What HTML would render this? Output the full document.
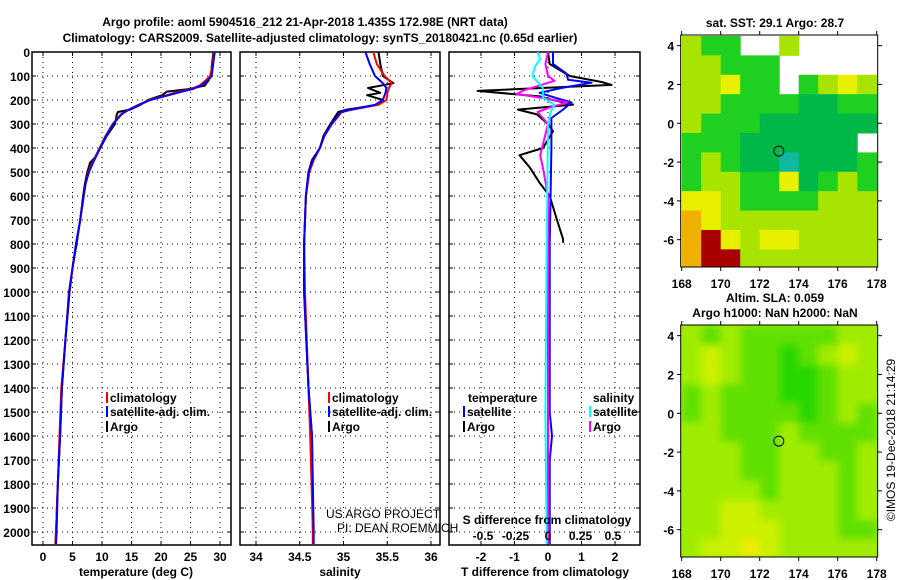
<!DOCTYPE html>
<html><head><meta charset="utf-8"><style>
html,body{margin:0;padding:0;background:#fff;}
svg{display:block;font-family:"Liberation Sans",sans-serif;}
.b{font-weight:bold;font-size:12px;}
.n{font-weight:normal;font-size:12px;}
</style></head><body>
<svg id="s" width="900" height="580" viewBox="0 0 900 580">
<text class="b" x="305" y="26" text-anchor="middle" font-size="13">Argo profile: aoml 5904516_212 21-Apr-2018 1.435S 172.98E (NRT data)</text>
<text class="b" x="320" y="42" text-anchor="middle" font-size="13">Climatology: CARS2009. Satellite-adjusted climatology: synTS_20180421.nc (0.65d earlier)</text>
<g id="g"></g>
</svg>
<script>
// ---- profile data (depth in m) ----
const tDepth=[0,20,60,100,120,140,155,165,180,200,220,240,250,260,300,350,400,440,460,500,550,600,700,800,900,1000,1200,1400,1600,1800,2000,2050];
const tArgo=[28.9,28.8,28.6,28.5,28.0,27.4,24.5,21.0,20.2,17.8,16.5,14.8,12.7,12.5,12.2,10.8,9.7,8.8,8.0,7.5,7.1,6.8,6.3,5.7,5.0,4.4,3.8,3.2,2.9,2.5,2.2,2.1];
const tClim=[29.0,28.9,28.7,28.3,27.5,26.5,25.0,23.0,21.0,18.0,16.2,14.5,13.8,13.2,11.8,10.6,9.6,8.8,8.4,7.7,7.2,6.9,6.3,5.6,5.0,4.5,3.8,3.1,2.8,2.5,2.2,2.1];
const tSat=[29.1,29.0,28.8,28.6,27.8,26.8,25.3,23.5,21.3,18.2,16.3,14.6,13.9,13.3,11.9,10.7,9.7,8.9,8.5,7.8,7.2,6.9,6.3,5.6,5.0,4.5,3.8,3.2,2.9,2.5,2.3,2.2];
const sDepth=[0,50,100,130,150,170,180,200,220,240,250,300,350,400,450,500,600,800,1000,1400,1600,2000,2050];
const sArgo=[35.40,35.42,35.45,35.57,35.28,35.42,35.27,35.45,35.38,35.04,34.94,34.85,34.77,34.73,34.64,34.60,34.57,34.55,34.55,34.60,34.64,34.65,34.65];
const sClim=[35.34,35.38,35.47,35.55,35.52,35.50,35.50,35.49,35.40,35.10,34.98,34.87,34.78,34.73,34.66,34.61,34.57,34.55,34.56,34.60,34.62,34.65,34.65];
const sSat=[35.25,35.30,35.36,35.45,35.49,35.48,35.47,35.45,35.36,35.08,34.97,34.86,34.78,34.73,34.65,34.60,34.57,34.55,34.55,34.60,34.64,34.66,34.66];
const dtDepth=[0,50,100,125,137,162,185,200,219,240,260,300,330,400,430,480,545,600,700,780,795];
const dtArgo=[0,0.05,0.65,1.6,1.9,-2.1,-0.25,0.15,0.75,-0.9,-0.33,0,0.15,-0.15,-0.85,-0.55,-0.25,0.05,0.27,0.45,0.45];
const dtSatDepth=[0,50,90,116,128,150,170,190,210,240,275,400,800,1200,1500,1600,1700,2050];
const dtSat=[0.15,0.15,0.55,0.6,1.3,0.4,-0.25,0.2,0.7,0.45,0.1,0.1,0.05,0.05,0.05,0.12,0.05,0.05];
const dsArgoDepth=[0,50,100,120,160,175,190,210,230,250,300,430,480,600,800,2050];
const dsArgo=[0,-0.02,0,0.05,-0.19,-0.24,-0.06,0.15,0.02,-0.08,0,-0.06,-0.04,0,0,0];
const dsSatDepth=[0,30,60,100,150,190,220,250,300,800,1500,2050];
const dsSat=[-0.08,-0.06,-0.1,-0.12,-0.04,-0.04,0.05,0.02,0,-0.01,-0.02,-0.01];
// ---- tick labels ----
const depthTicks=[0,100,200,300,400,500,600,700,800,900,1000,1100,1200,1300,1400,1500,1600,1700,1800,1900,2000];
const tTicks=[0,5,10,15,20,25,30];
const sTicks=[34,34.5,35,35.5,36];
const dtTicks=[-2,-1,0,1,2];
const dsTicks=[-0.5,-0.25,0,0.25,0.5];
const latTicks=[4,2,0,-2,-4,-6];
const lonTicks=[168,170,172,174,176,178];
// ---- map grids (1 deg cells, rows lat 4.5 -> -7.5, cols lon 168 -> 178); -1 = missing ----
const sstGrid=[
[3,2,2,-1,-1,3,-1,-1,-1,-1],
[3,3,2,2,2,-1,-1,-1,-1,-1],
[3,3,4,2,2,-1,2,3,4,3],
[3,3,2,2,2,2,1,1,2,2],
[3,2,2,2,1,1,1,1,1,1],
[2,2,2,1,1,1,1,1,1,-1],
[2,3,2,1,1,0,1,1,1,2],
[2,3,3,2,2,4,1,2,3,2],
[4,4,3,2,2,2,2,3,3,3],
[5,4,3,3,3,3,3,3,3,3],
[5,6,4,3,4,4,3,3,3,3],
[5,6,6,3,3,3,3,3,3,3]];
const slaGrid=[
[2,1,2,1,1,1,1,1,2,2],
[2,3,2,1,1,0,1,2,3,2],
[2,3,2,1,1,0,0,1,2,2],
[1,2,1,1,1,0,0,1,2,2],
[1,2,1,1,1,1,0,1,2,1],
[2,2,1,1,1,2,1,1,1,1],
[2,2,2,1,1,2,2,1,1,2],
[2,2,2,1,1,2,2,2,1,2],
[2,2,2,2,1,2,2,2,1,2],
[2,2,3,3,2,2,2,2,1,2],
[2,2,3,3,3,2,2,2,1,1],
[2,3,3,4,3,2,2,2,2,2]];
const sstColors=['#10b8a0','#00b848','#20d020','#a8e400','#e8f000','#f0b000','#a80000'];
const slaColors=['#28d800','#60e000','#a0ec00','#ccf000','#ecec00'];

const NS='http://www.w3.org/2000/svg';
const G=document.getElementById('g');
function mk(tag,attrs,parent){const e=document.createElementNS(NS,tag);for(const k in attrs)e.setAttribute(k,attrs[k]);(parent||G).appendChild(e);return e;}
const yD=d=>52+0.24*d;
const xT=t=>43+5.9*t;
const xS=s=>256+87.5*(s-34);
const xDT=d=>548+33.5*d;
const xDS=d=>548+130*d;
const PT=52,PB=545;

function panel(name,x0,x1,ticks,xf,grid){
  const g=mk('g',{});
  
  
  depthTicks.forEach(d=>{mk('line',{x1:x0,x2:x1,y1:yD(d),y2:yD(d),stroke:'#000','stroke-dasharray':'1,4','stroke-width':1},g);
    mk('line',{x1:x0,x2:x0+4,y1:yD(d),y2:yD(d),stroke:'#000'},g);mk('line',{x1:x1-4,x2:x1,y1:yD(d),y2:yD(d),stroke:'#000'},g);});
  grid.forEach(v=>{const x=xf(v);mk('line',{x1:x,x2:x,y1:PT,y2:PB,stroke:'#000','stroke-dasharray':'1,4'},g);
    mk('line',{x1:x,x2:x,y1:PB-4,y2:PB,stroke:'#000'},g);mk('line',{x1:x,x2:x,y1:PT,y2:PT+4,stroke:'#000'},g);});
  mk('rect',{x:x0,y:PT,width:x1-x0,height:PB-PT,fill:'none',stroke:'#000','stroke-width':1.5},g);
  ticks.forEach(v=>{const t=mk('text',{x:xf(v),y:561,'text-anchor':'middle',class:'b'},g);t.textContent=String(v);
    
    });
  return g;
}
function line(g,name,xs,ds,xf,color,w){
  const pts=xs.map((v,i)=>xf(v).toFixed(1)+','+yD(ds[i]).toFixed(1)).join(' ');
  const p=mk('polyline',{points:pts,fill:'none',stroke:color,'stroke-width':w||2,'stroke-linejoin':'round'},g);
  
  
}
depthTicks.forEach(d=>{const t=mk('text',{x:30,y:yD(d)+5,'text-anchor':'end',class:'b'});t.textContent=d;
  
  });

const p1=panel('temperature-panel',32,231,tTicks,xT,tTicks);
line(p1,'temperature-argo-line',tArgo,tDepth,xT,'#000');
line(p1,'temperature-climatology-line',tClim,tDepth,xT,'#f00');
line(p1,'temperature-satellite-line',tSat,tDepth,xT,'#00f');
const p2=panel('salinity-panel',240,440,sTicks,xS,sTicks);
line(p2,'salinity-argo-line',sArgo,sDepth,xS,'#000');
line(p2,'salinity-climatology-line',sClim,sDepth,xS,'#f00');
line(p2,'salinity-satellite-line',sSat,sDepth,xS,'#00f');
const p3=panel('difference-panel',449,640,dtTicks,xDT,dtTicks);
line(p3,'t-diff-argo-line',dtArgo,dtDepth,xDT,'#000');
line(p3,'t-diff-satellite-line',dtSat,dtSatDepth,xDT,'#00f');
line(p3,'s-diff-argo-line',dsArgo,dsArgoDepth,xDS,'#f0f');
line(p3,'s-diff-satellite-line',dsSat,dsSatDepth,xDS,'#0ff');
dsTicks.forEach(v=>{const t=mk('text',{x:xDS(v),y:540,'text-anchor':'middle',class:'b'});t.textContent=String(v);
  
  });

function txt(x,y,s,name,cls,anchor,extra){const t=mk('text',Object.assign({x:x,y:y,class:cls||'b','text-anchor':anchor||'start'},extra||{}));t.textContent=s;
  
  return t;}
txt(136,576,'temperature (deg C)','temperature-axis-title','b','middle');
txt(340,576,'salinity','salinity-axis-title','b','middle');
txt(545,576,'T difference from climatology','t-diff-axis-title','b','middle');
txt(547,524,'S difference from climatology','s-diff-axis-title','b','middle');
txt(326,518,'US ARGO PROJECT','project-credit','n','start',{'font-size':13});
txt(337,532,'PI: DEAN ROEMMICH','pi-credit','n','start',{'font-size':13});
function legend(x,y,color,label,name){const r=mk('rect',{x:x-4,y:y-10,width:2,height:11,fill:color});
  
  
  txt(x,y,label,name);}
legend(110,402,'#f00','climatology','legend-t-climatology');
legend(110,416,'#00f','satellite-adj. clim.','legend-t-satellite');
legend(110,431,'#000','Argo','legend-t-argo');
legend(332,402,'#f00','climatology','legend-s-climatology');
legend(332,416,'#00f','satellite-adj. clim.','legend-s-satellite');
legend(332,431,'#000','Argo','legend-s-argo');
txt(468,402,'temperature','legend-temperature-heading');
legend(467,416,'#00f','satellite','legend-diff-t-satellite');
legend(467,431,'#000','Argo','legend-diff-t-argo');
txt(593,402,'salinity','legend-salinity-heading');
legend(593,416,'#0ff','satellite','legend-diff-s-satellite');
legend(593,431,'#f0f','Argo','legend-diff-s-argo');

// ---- maps ----
const lonX=l=>681.7+19.5*(l-168);
function map(name,top,gridData,colors,smooth){
  const g=mk('g',{});
  
  
  const latY=la=>top+(4.55-la)*19.4;
  if(smooth) mk('rect',{x:680.7,y:top,width:197,height:232,fill:colors[2]},g);
  const cg=mk('g',smooth?{filter:'url(#blur)'}:{},g);
  gridData.forEach((row,r)=>row.forEach((v,c)=>{
    if(v<0)return;
    const x0=lonX(168+c),x1=lonX(169+c),y0=latY(4.5-r),y1=latY(3.5-r);
    const cell=mk('rect',{x:Math.max(x0,680.7),y:Math.max(y0,top),width:Math.min(x1,877.7)-Math.max(x0,680.7)+0.5,height:Math.min(y1,top+232)-Math.max(y0,top)+0.5,fill:colors[v]},cg);
    
    
  }));
  mk('rect',{x:680.7,y:top,width:197,height:232,fill:'none',stroke:'#000','stroke-width':1},g);
  latTicks.forEach(la=>{const y=latY(la);mk('line',{x1:677,x2:681,y1:y,y2:y,stroke:'#000'},g);mk('line',{x1:878,x2:882,y1:y,y2:y,stroke:'#000'},g);
    const t=mk('text',{x:674,y:y+5,'text-anchor':'end',class:'b','font-size':13},g);t.textContent=la;
    
    });
  lonTicks.forEach(lo=>{const x=lonX(lo);mk('line',{x1:x,x2:x,y1:top-4,y2:top,stroke:'#000'},g);mk('line',{x1:x,x2:x,y1:top+232,y2:top+236,stroke:'#000'},g);
    const t=mk('text',{x:x,y:top+253,'text-anchor':'middle',class:'b','font-size':13},g);t.textContent=lo;
    
    });
  const c=mk('circle',{cx:lonX(172.98),cy:latY(-1.435),r:5,fill:'none',stroke:'#000'},g);
  
  
}
const defs=mk('defs',{});
const f=mk('filter',{id:'blur',x:'0',y:'0',width:'1',height:'1'},defs);
mk('feGaussianBlur',{stdDeviation:'4',edgeMode:'duplicate'},f);
map('sst-map',35,sstGrid,sstColors,false);
map('sla-map',325,slaGrid,slaColors,true);
txt(775,27,'sat. SST: 29.1 Argo: 28.7','sst-map-title','b','middle');
txt(775,302,'Altim. SLA: 0.059','sla-map-title','b','middle');
txt(775,317,'Argo h1000: NaN h2000: NaN','sla-map-subtitle','b','middle');
txt(0,0,'\u00a9IMOS 19-Dec-2018 21:14:29','timestamp','n','middle',{'font-size':14,transform:'translate(895,440) rotate(-90)'});
</script>
</body></html>
